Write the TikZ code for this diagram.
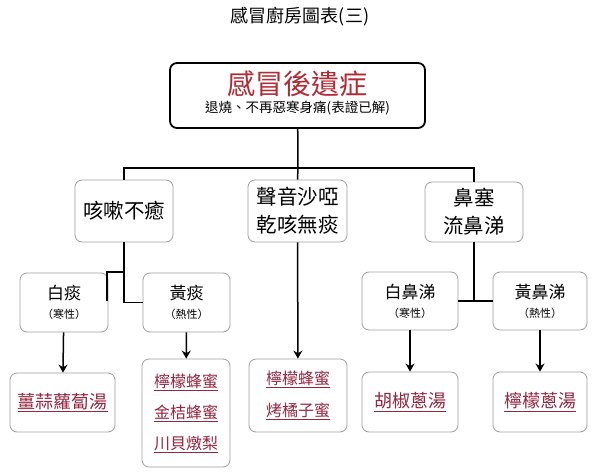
\documentclass[tikz,border=0pt]{standalone}
\usepackage{fontspec}
\setmainfont{Noto Sans CJK TC}
\usetikzlibrary{arrows.meta,shapes}
\definecolor{redtxt}{RGB}{178,42,52}
\definecolor{remedy}{RGB}{150,38,62}
\newcommand{\fs}[2]{\fontsize{#1}{#2}\selectfont}

\begin{document}
\begin{tikzpicture}[x=1pt,y=-1pt,>={Stealth[length=8pt,width=9pt]},line width=1.5pt]
  \tikzset{box/.style={draw=gray!75,line width=0.8pt,rounded corners=7pt,align=center,inner sep=0pt},
           cure/.style={box,text=remedy},
           big/.style={font=\fs{20.5}{28}},
           kind/.style={font=\fs{17}{19}}}
  \useasboundingbox (0,0) rectangle (600,472);
  \fill[white] (0,0) rectangle (600,472);
  \node[font=\fs{18}{20}] (title) at (300,17) {感冒廚房圖表(三)};
  \node[box,draw=black,line width=1.8pt,minimum width=255,minimum height=65] (top) at (297.5,95.5) {};
  \node[font=\fs{28}{30},text=redtxt] (topa) at (297.5,84) {感冒後遺症};
  \node[font=\fs{13.5}{16}] (topb) at (297.5,108.5) {退燒、不再惡寒身痛(表證已解)};
  \node[box,big,minimum width=98,minimum height=62] (cough) at (124,211) {咳嗽不癒};
  \node[box,big,minimum width=99,minimum height=62] (voice) at (297.5,211) {聲音沙啞\\乾咳無痰};
  \node[box,big,minimum width=98,minimum height=60] (nose) at (474,212) {鼻塞\\流鼻涕};
  \node[box,kind,minimum width=88,minimum height=59] (tanw) at (64,302.5) {白痰\\{\fs{11}{12}（寒性）}};
  \node[box,kind,minimum width=87,minimum height=59] (tany) at (186.5,302.5) {黃痰\\{\fs{11}{12}（熱性）}};
  \node[box,kind,minimum width=96,minimum height=58] (snotw) at (410,301) {白鼻涕\\{\fs{11}{12}（寒性）}};
  \node[box,kind,minimum width=94,minimum height=58] (snoty) at (540,301) {黃鼻涕\\{\fs{11}{12}（熱性）}};
  \node[cure,font=\fs{18}{31},minimum width=105,minimum height=59] (r1) at (62.5,402.5) {\underline{薑蒜蘿蔔湯}};
  \node[cure,font=\fs{16}{31},minimum width=88,minimum height=108] (r2) at (186,413) {\underline{檸檬蜂蜜}\\\underline{金桔蜂蜜}\\\underline{川貝燉梨}};
  \node[cure,font=\fs{16}{32},minimum width=98,minimum height=73] (r3) at (298,395.5) {\underline{檸檬蜂蜜}\\\underline{烤橘子蜜}};
  \node[cure,font=\fs{18}{31},minimum width=96,minimum height=60] (r4) at (410,402) {\underline{胡椒蔥湯}};
  \node[cure,font=\fs{18}{31},minimum width=94,minimum height=60] (r5) at (540,402) {\underline{檸檬蔥湯}};
  % tree lines
  \coordinate (bar) at (298,168);
  \coordinate (j1) at (124,272);
  \coordinate (j2) at (107,301);
  \draw (top) -- (bar);
  \draw (cough.north) |- (bar) -| (nose.north);
  \draw (bar) -- (voice.north);
  \draw (cough.south) |- (tany.west);
  \draw (j1) -| (j2);
  \draw (nose.south) -- (nose.south |- snotw.east);
  \draw (snotw.east) -- (snoty.west);
  \path[->] (tanw) edge (r1) (tany) edge (r2) (voice) edge (r3) (snotw) edge (r4) (snoty) edge (r5);
\end{tikzpicture}
\end{document}
